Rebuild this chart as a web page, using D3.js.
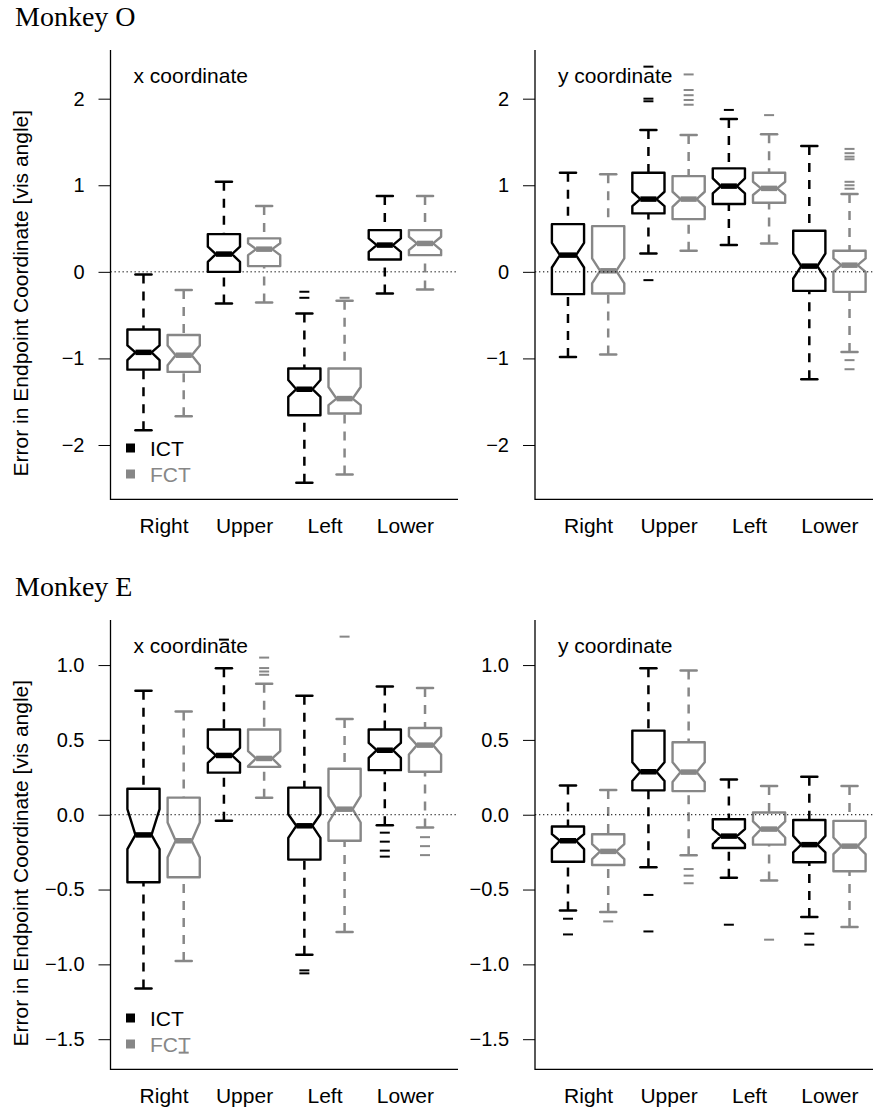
<!DOCTYPE html>
<html><head><meta charset="utf-8">
<script src="https://cdn.jsdelivr.net/npm/d3@7"></script>
<style>body{margin:0;background:#fff}svg text{font-family:"Liberation Sans",Arial,Helvetica,sans-serif}</style>
</head><body><svg id="c" width="873" height="1108"></svg>
<script>
// ---------- data ----------
const categories = ["Right", "Upper", "Left", "Lower"];
const groups = ["ICT", "FCT"];
const groupColors = ["#000000", "#878787"];
// each box: [lowWhisker, Q1, notchLow, median, notchHigh, Q3, highWhisker]
// box order: Right ICT, Right FCT, Upper ICT, Upper FCT, Left ICT, Left FCT, Lower ICT, Lower FCT
const monkeyO_x = [
  [-1.83, -1.13, -1.02, -0.93, -0.85, -0.666, -0.03],
  [-1.668, -1.156, -1.08, -0.963, -0.85, -0.73, -0.21],
  [-0.366, 0.0, 0.116, 0.205, 0.29, 0.436, 1.04],
  [-0.354, 0.066, 0.193, 0.262, 0.33, 0.386, 0.76],
  [-2.435, -1.657, -1.445, -1.356, -1.25, -1.117, -0.48],
  [-2.34, -1.637, -1.54, -1.464, -1.33, -1.117, -0.335],
  [-0.25, 0.143, 0.231, 0.309, 0.386, 0.482, 0.875],
  [-0.203, 0.193, 0.251, 0.328, 0.405, 0.482, 0.875]
];
const monkeyO_x_outliers = [[], [], [], [], [-0.23, -0.30], [-0.30], [], []];
const monkeyO_y = [
  [-0.983, -0.258, 0.05, 0.193, 0.335, 0.551, 1.145],
  [-0.955, -0.25, -0.134, 0.012, 0.155, 0.528, 1.126],
  [0.212, 0.675, 0.76, 0.84, 0.925, 1.145, 1.638],
  [0.243, 0.609, 0.75, 0.84, 0.925, 1.106, 1.58],
  [0.309, 0.783, 0.906, 0.99, 1.08, 1.195, 1.765],
  [0.328, 0.798, 0.887, 0.964, 1.04, 1.145, 1.588],
  [-1.24, -0.22, -0.077, 0.066, 0.212, 0.474, 1.453],
  [-0.925, -0.231, 0.0, 0.077, 0.155, 0.243, 0.898]
];
const monkeyO_y_outliers = [[], [], [2.37, 2.0, 1.97, -0.096], [2.28, 2.10, 2.04, 1.985, 1.93],
  [1.87], [1.81], [], [1.42, 1.37, 1.33, 1.30, 1.04, 1.00, 0.96, -1.02, -1.125]];
const monkeyE_x = [
  [-1.161, -0.451, -0.23, -0.135, 0.037, 0.174, 0.828],
  [-0.977, -0.418, -0.285, -0.174, -0.052, 0.114, 0.689],
  [-0.041, 0.281, 0.347, 0.396, 0.447, 0.569, 0.979],
  [0.114, 0.32, 0.325, 0.376, 0.425, 0.569, 0.875],
  [-0.935, -0.30, -0.155, -0.074, 0.003, 0.181, 0.795],
  [-0.784, -0.174, -0.052, 0.037, 0.125, 0.307, 0.64],
  [-0.07, 0.298, 0.38, 0.431, 0.48, 0.569, 0.857],
  [-0.085, 0.287, 0.403, 0.465, 0.524, 0.58, 0.846]
];
const monkeyE_x_outliers = [[], [-1.59], [1.17], [1.05, 0.98, 0.957, 0.935], [-1.04, -1.06], [1.19],
  [-0.12, -0.18, -0.24, -0.28], [-0.15, -0.21, -0.27]];
const monkeyE_y = [
  [-0.64, -0.314, -0.23, -0.174, -0.13, -0.079, 0.196],
  [-0.65, -0.336, -0.296, -0.245, -0.196, -0.13, 0.165],
  [-0.351, 0.163, 0.225, 0.287, 0.351, 0.562, 0.979],
  [-0.27, 0.158, 0.218, 0.285, 0.351, 0.484, 0.963],
  [-0.422, -0.222, -0.196, -0.143, -0.096, -0.03, 0.236],
  [-0.44, -0.2, -0.152, -0.096, -0.045, 0.015, 0.192],
  [-0.684, -0.318, -0.252, -0.2, -0.141, -0.035, 0.254],
  [-0.75, -0.378, -0.263, -0.21, -0.152, -0.041, 0.192]
];
const monkeyE_y_outliers = [[-0.695, -0.80], [-0.713], [-0.536, -0.78], [-0.363, -0.407, -0.458],
  [-0.735], [-0.835], [-0.795, -0.868], []];

const rowTitles = ["Monkey O", "Monkey E"];
const colTitles = ["x coordinate", "y coordinate"];
const yAxisTitle = "Error in Endpoint Coordinate [vis angle]";
const ticksO = [-2, -1, 0, 1, 2];
const tickLabelsO = ["\u22122", "\u22121", "0", "1", "2"];
const ticksE = [-1.5, -1.0, -0.5, 0, 0.5, 1.0];
const tickLabelsE = ["\u22121.5", "\u22121.0", "\u22120.5", "0.0", "0.5", "1.0"];

// ---------- layout ----------
const svg = d3.select("#c");
const rows = [
  { title: rowTitles[0], top: 50, bottom: 499.3, panels: [[monkeyO_x, monkeyO_x_outliers], [monkeyO_y, monkeyO_y_outliers]], ticks: ticksO, labels: tickLabelsO },
  { title: rowTitles[1], top: 620, bottom: 1069.3, panels: [[monkeyE_x, monkeyE_x_outliers], [monkeyE_y, monkeyE_y_outliers]], ticks: ticksE, labels: tickLabelsE }
];
const colLeft = [110.5, 535];
const plotW = 347.5;
const nBox = 8;

rows.forEach((row, ri) => {
  // shared y range per row, R-style 4% extension
  let all = [];
  row.panels.forEach(([st, out]) => { st.forEach(s => all.push(s[0], s[6])); out.forEach(o => all.push(...o)); });
  const mn = d3.min(all), mx = d3.max(all), r = mx - mn;
  const y = d3.scaleLinear().domain([mn - 0.04 * r, mx + 0.04 * r]).range([row.bottom, row.top]);

  svg.append("text").attr("x", 15).attr("y", row.top - 24)
    .style("font-family", '"Liberation Serif","Times New Roman",serif')
    .style("font-size", "28px").attr("fill", "#000").text(row.title);

  row.panels.forEach(([stats, outl], ci) => {
    const left = colLeft[ci];
    const x = d3.scaleLinear().domain([0.5 - 0.04 * nBox, nBox + 0.5 + 0.04 * nBox]).range([left, left + plotW]);
    const g = svg.append("g");

    // y axis
    const ax = g.append("g").attr("transform", `translate(${left},0)`)
      .call(d3.axisLeft(y).tickValues(row.ticks).tickFormat((d, i) => row.labels[i]).tickSize(12).tickSizeOuter(0).tickPadding(14));
    ax.select(".domain").remove();
    ax.selectAll("line").attr("stroke", "#000").attr("stroke-width", 1);
    ax.selectAll("text").style("font-size", "20px").attr("fill", "#000");

    // category axis
    const bx = g.append("g").attr("transform", `translate(0,${row.bottom})`)
      .call(d3.axisBottom(x).tickValues([1.5, 3.5, 5.5, 7.5]).tickFormat((d, i) => categories[i]).tickSize(0).tickPadding(19));
    bx.select(".domain").remove();
    bx.selectAll("text").style("font-size", "21px").attr("fill", "#000");

    // L-shaped frame
    g.append("path").attr("d", `M${left},${row.top}V${row.bottom}H${left + plotW}`)
      .attr("fill", "none").attr("stroke", "#000").attr("stroke-width", 1.3);

    // boxes
    const hw = x(1.4) - x(1);
    stats.forEach((s, i) => {
      const pos = i + 1, cx = x(pos), col = groupColors[i % 2];
      const [lo, q1, nlo, md, nhi, q3, hi] = s.map(v => y(v));
      const bg = g.append("g");
      // whiskers (dashed)
      [[hi, q3], [lo, q1]].forEach(([a, b]) => {
        bg.append("line").attr("x1", cx).attr("x2", cx).attr("y1", a).attr("y2", b)
          .attr("stroke", col).attr("stroke-width", 2.5).attr("stroke-dasharray", "9,8");
        bg.append("line").attr("x1", cx - hw / 2).attr("x2", cx + hw / 2).attr("y1", a).attr("y2", a)
          .attr("stroke", col).attr("stroke-width", 2.5).attr("stroke-linecap", "round");
      });
      // notched box
      const pts = [[cx - hw, q1], [cx - hw, nlo], [cx - hw / 2, md], [cx - hw, nhi], [cx - hw, q3],
        [cx + hw, q3], [cx + hw, nhi], [cx + hw / 2, md], [cx + hw, nlo], [cx + hw, q1]];
      bg.append("path").attr("d", d3.line()(pts) + "Z").attr("fill", "none")
        .attr("stroke", col).attr("stroke-width", 2.4).attr("stroke-linejoin", "round");
      bg.append("line").attr("x1", cx - hw / 2).attr("x2", cx + hw / 2).attr("y1", md).attr("y2", md)
        .attr("stroke", col).attr("stroke-width", 5.5);
      // outliers
      outl[i].forEach(v => {
        bg.append("line").attr("x1", cx - 5).attr("x2", cx + 5).attr("y1", y(v)).attr("y2", y(v))
          .attr("stroke", col).attr("stroke-width", 2);
      });
    });

    // zero reference
    g.append("line").attr("x1", left).attr("x2", left + plotW).attr("y1", y(0)).attr("y2", y(0))
      .attr("stroke", "#000").attr("stroke-width", 1).attr("stroke-dasharray", "1.3,2.7");

    // panel subtitle
    g.append("text").attr("x", left + 23).attr("y", row.top + 33).style("font-size", "21px").attr("fill", "#000").text(colTitles[ci]);

    if (ci === 0) {
      // y axis title
      svg.append("text").attr("transform", `translate(28,${(row.top + row.bottom) / 2 + 18.5}) rotate(-90)`)
        .attr("text-anchor", "middle").style("font-size", "21px").attr("fill", "#000").text(yAxisTitle);
      // legend
      groups.forEach((gname, k) => {
        const ly = row.top + 398 + k * 26;
        svg.append("rect").attr("x", 126).attr("y", ly - 4.5).attr("width", 9).attr("height", 9).attr("fill", groupColors[k]);
        svg.append("text").attr("x", 150).attr("y", ly + 7.5).style("font-size", "21px").attr("fill", groupColors[k]).text(gname);
      });
    }
  });
});
</script></body></html>
